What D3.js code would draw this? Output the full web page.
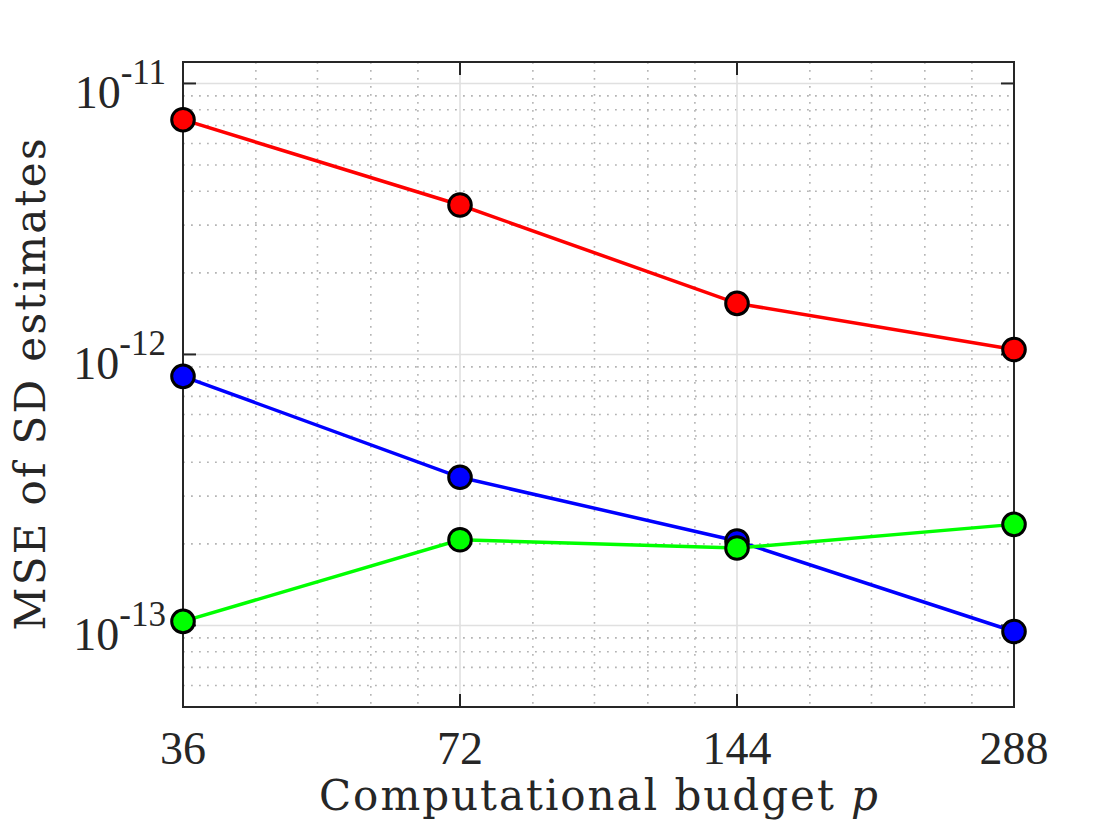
<!DOCTYPE html>
<html>
<head>
<meta charset="utf-8">
<script src="https://cdn.jsdelivr.net/npm/d3@7"></script>
<style>
	body { margin: 0; background: #fff; }
	svg { display: block; }
</style>
</head>
<body>
<div id="chart"></div>
<script>

// values
const budgets = [36, 72, 144, 288];
const mseRed = [7.35e-12, 3.56e-12, 1.543e-12, 1.043e-12];
const mseBlue = [8.3e-13, 3.52e-13, 2.05e-13, 9.5e-14];
const mseGreen = [1.035e-13, 2.07e-13, 1.93e-13, 2.36e-13];
const yTickExps = [-13, -12, -11];

const series = [
	{ color: "#ff0000", values: mseRed },
	{ color: "#0000ff", values: mseBlue },
	{ color: "#00ff00", values: mseGreen }
];

const width = 1120, height = 840;
const margin = { top: 62, right: 106, bottom: 133, left: 183 };
const innerW = width - margin.left - margin.right,
	innerH = height - margin.top - margin.bottom;

const x = d3.scaleLog().domain([36, 288]).range([0, innerW]);
const y = d3.scaleLog().domain([5e-14, 1.2e-11]).range([innerH, 0]);

const svg = d3.select("#chart").append("svg")
	.attr("width", width)
	.attr("height", height);

const g = svg.append("g")
	.attr("transform", `translate(${margin.left},${margin.top})`);

// minor grid, x: five steps inside each octave
let xMinor = [];
budgets.slice(0, -1).forEach(b => {
	for (let k = 1; k < 5; k++) xMinor.push(b * (1 + 0.2 * k));
});

// minor grid, y: 2..9 of each decade
let yMinor = [];
for (let e = -14; e <= -11; e++) {
	for (let m = 2; m <= 9; m++) {
		let v = m * Math.pow(10, e);
		if (v >= 5e-14 && v <= 1.2e-11) yMinor.push(v);
	}
}

const grid = g.append("g");

grid.selectAll("line.xminor").data(xMinor).enter().append("line")
	.attr("class", "xminor")
	.attr("x1", d => x(d)).attr("x2", d => x(d))
	.attr("y1", 0).attr("y2", innerH)
	.attr("stroke", "#b4b4b4")
	.attr("stroke-width", 1.6)
	.attr("stroke-dasharray", "1.8,6.2");

grid.selectAll("line.yminor").data(yMinor).enter().append("line")
	.attr("class", "yminor")
	.attr("x1", 0).attr("x2", innerW)
	.attr("y1", d => y(d)).attr("y2", d => y(d))
	.attr("stroke", "#b4b4b4")
	.attr("stroke-width", 1.6)
	.attr("stroke-dasharray", "1.8,6.2");

grid.selectAll("line.xmajor").data(budgets).enter().append("line")
	.attr("class", "xmajor")
	.attr("x1", d => x(d)).attr("x2", d => x(d))
	.attr("y1", 0).attr("y2", innerH)
	.attr("stroke", "#e0e0e0")
	.attr("stroke-width", 1.6);

grid.selectAll("line.ymajor").data(yTickExps).enter().append("line")
	.attr("class", "ymajor")
	.attr("x1", 0).attr("x2", innerW)
	.attr("y1", d => y(Math.pow(10, d))).attr("y2", d => y(Math.pow(10, d)))
	.attr("stroke", "#e0e0e0")
	.attr("stroke-width", 1.6);

// axes box and inward ticks
const axisColor = "#262626";
const tickLen = 13;

g.append("rect")
	.attr("width", innerW).attr("height", innerH)
	.attr("fill", "none")
	.attr("stroke", axisColor)
	.attr("stroke-width", 2);

const ticks = g.append("g").attr("stroke", axisColor).attr("stroke-width", 2);

budgets.forEach(b => {
	ticks.append("line")
		.attr("x1", x(b)).attr("x2", x(b))
		.attr("y1", innerH).attr("y2", innerH - tickLen);
	ticks.append("line")
		.attr("x1", x(b)).attr("x2", x(b))
		.attr("y1", 0).attr("y2", tickLen);
});

yTickExps.forEach(e => {
	let yy = y(Math.pow(10, e));
	ticks.append("line")
		.attr("x1", 0).attr("x2", tickLen)
		.attr("y1", yy).attr("y2", yy);
	ticks.append("line")
		.attr("x1", innerW).attr("x2", innerW - tickLen)
		.attr("y1", yy).attr("y2", yy);
});

// tick labels
g.selectAll("text.xtick").data(budgets).enter().append("text")
	.attr("class", "xtick")
	.attr("x", d => x(d))
	.attr("y", innerH + 57)
	.attr("text-anchor", "middle")
	.attr("font-family", "'Liberation Serif', serif")
	.attr("font-size", 46)
	.attr("fill", axisColor)
	.text(d => d);

const yt = g.selectAll("text.ytick").data(yTickExps).enter().append("text")
	.attr("class", "ytick")
	.attr("x", -17)
	.attr("y", d => y(Math.pow(10, d)) + 25)
	.attr("text-anchor", "end")
	.attr("font-family", "'Liberation Serif', serif")
	.attr("font-size", 46)
	.attr("fill", axisColor);

yt.append("tspan").text("10");
yt.append("tspan")
	.attr("dy", -24)
	.attr("font-size", 35)
	.text(d => "-" + Math.abs(d));

// axis labels
const xl = svg.append("text")
	.attr("x", margin.left + innerW / 2)
	.attr("y", 810)
	.attr("text-anchor", "middle")
	.attr("font-family", "'DejaVu Serif', serif")
	.attr("font-size", 42)
	.attr("fill", axisColor)
	.attr("textLength", 559)
	.attr("lengthAdjust", "spacing");
xl.append("tspan").text("Computational budget ");
xl.append("tspan").attr("font-style", "italic").text("p");

svg.append("text")
	.attr("transform", `translate(45,${margin.top + innerH / 2}) rotate(-90)`)
	.attr("text-anchor", "middle")
	.attr("font-family", "'DejaVu Serif', serif")
	.attr("font-size", 42)
	.attr("fill", axisColor)
	.attr("textLength", 492)
	.attr("lengthAdjust", "spacing")
	.text("MSE of SD estimates");

// series: line then markers
const line = d3.line()
	.x((d, i) => x(budgets[i]))
	.y(d => y(d));

series.forEach(s => {
	let sg = g.append("g");

	sg.append("path")
		.datum(s.values)
		.attr("d", line)
		.attr("fill", "none")
		.attr("stroke", s.color)
		.attr("stroke-width", 3.5);

	sg.selectAll("circle").data(s.values).enter().append("circle")
		.attr("cx", (d, i) => x(budgets[i]))
		.attr("cy", d => y(d))
		.attr("r", 11.3)
		.attr("fill", s.color)
		.attr("stroke", "#000")
		.attr("stroke-width", 3);
});

</script>
</body>
</html>
